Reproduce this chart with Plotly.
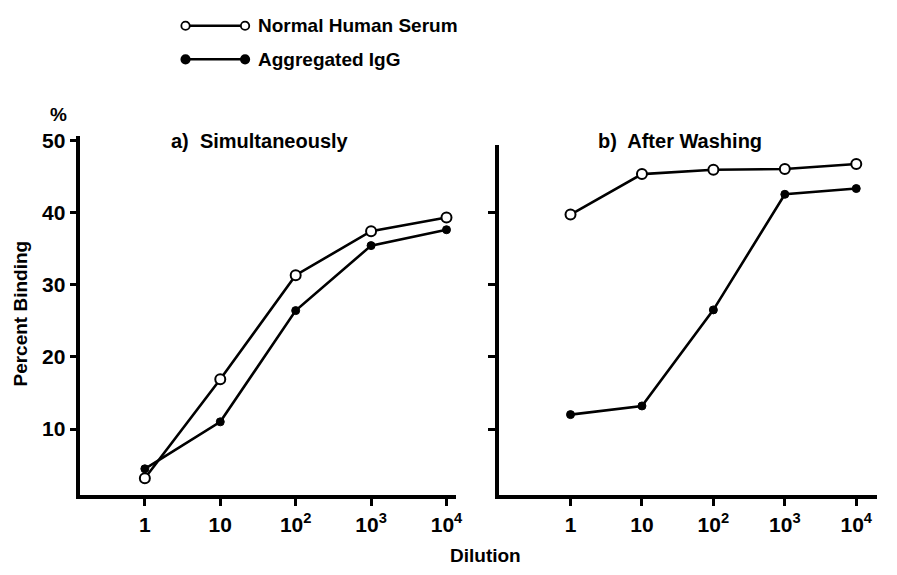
import plotly.graph_objects as go

# Dilution levels and percent binding for each serum treatment
dilution = [1, 10, 100, 1000, 10000]
dilution_labels = ["1", "10", "10<sup>2</sup>", "10<sup>3</sup>", "10<sup>4</sup>"]

simul_normal = [3.2, 16.9, 31.3, 37.4, 39.3]
simul_aggregated = [4.5, 11.0, 26.4, 35.4, 37.6]

washed_normal = [39.7, 45.3, 45.9, 46.0, 46.7]
washed_aggregated = [12.0, 13.2, 26.5, 42.5, 43.3]

y_ticks = [10, 20, 30, 40, 50]

W, H = 897, 575


def px(x):
    return x / W


def py(y):
    return 1 - y / H


LINE_W = 2.6
TICK_FONT = dict(family="Liberation Sans Narrow, Arial Narrow, Liberation Sans, Arial, sans-serif",
                 size=21, color="black", weight="bold")
TEXT_FONT = dict(family="Liberation Sans, Arial, Helvetica, sans-serif", size=19,
                 color="black", weight="bold")
TITLE_FONT = dict(TEXT_FONT, size=20)

open_marker = dict(symbol="circle", size=10, color="white", line=dict(color="black", width=2))
filled_marker = dict(symbol="circle", size=8, color="black", line=dict(color="black", width=1))

fig = go.Figure()

panels = [
    ("x", "y", simul_normal, simul_aggregated),
    ("x2", "y2", washed_normal, washed_aggregated),
]
for xa, ya, normal, aggregated in panels:
    fig.add_trace(go.Scatter(x=dilution, y=aggregated, mode="lines+markers", xaxis=xa, yaxis=ya,
                             line=dict(color="black", width=LINE_W), marker=filled_marker,
                             showlegend=False, cliponaxis=False))
    fig.add_trace(go.Scatter(x=dilution, y=normal, mode="lines+markers", xaxis=xa, yaxis=ya,
                             line=dict(color="black", width=LINE_W), marker=open_marker,
                             showlegend=False, cliponaxis=False))

axis_common = dict(showgrid=False, zeroline=False, showline=True, linecolor="black",
                   linewidth=3.5, ticks="outside", ticklen=7, tickwidth=2.5,
                   tickcolor="black", tickfont=TICK_FONT)

# 10 sits at y=427 px, 7.325 px per percentage point, axes meet at y=494 px
y_bottom = 10 - (494 - 427) / 7.325
fig.update_layout(
    width=W, height=H,
    margin=dict(l=0, r=0, t=0, b=0),
    paper_bgcolor="white", plot_bgcolor="white",
    xaxis=dict(axis_common, type="log", domain=[px(81), px(460)],
               range=[(81 - 146) / 76, (460 - 146) / 76], tickvals=dilution,
               ticktext=dilution_labels, ticklabelstandoff=1, anchor="y"),
    yaxis=dict(axis_common, domain=[py(494), py(130)], range=[y_bottom, 50.55],
               tickvals=y_ticks, ticktext=[str(v) for v in y_ticks],
               ticklabelstandoff=0, anchor="x"),
    xaxis2=dict(axis_common, type="log", domain=[px(503), px(884)],
                range=[(503 - 575) / 72, (884 - 575) / 72], tickvals=dilution,
                ticktext=dilution_labels, ticklabelstandoff=1, anchor="y2"),
    yaxis2=dict(axis_common, domain=[py(494), py(139)], range=[y_bottom, 49.32],
                tickvals=y_ticks[:-1], showticklabels=False, anchor="x2"),
)

annotations = [
    dict(text="a)  Simultaneously", x=px(262), y=py(135), font=TITLE_FONT),
    dict(text="b)  After Washing", x=px(685), y=py(135), font=TITLE_FONT),
    dict(text="Dilution", x=px(489), y=py(555), font=TEXT_FONT),
    dict(text="Percent Binding", x=px(21), y=py(310), textangle=-90, font=TEXT_FONT),
    dict(text="%", x=px(59), y=py(108), font=TEXT_FONT),
]
for a in annotations:
    fig.add_annotation(xref="paper", yref="paper", showarrow=False,
                       xanchor="center", yanchor="middle", **a)

# Key: line segment with a marker at each end, followed by the series name
legend_rows = [
    (18, "white", 4.2, "Normal Human Serum"),
    (52, "black", 4.2, "Aggregated IgG"),
]
for y, fill, r, label in legend_rows:
    fig.add_shape(type="line", xref="paper", yref="paper", x0=px(187), x1=px(247),
                  y0=py(y), y1=py(y), line=dict(color="black", width=LINE_W))
    for cx in (187, 247):
        fig.add_shape(type="circle", xref="paper", yref="paper", xsizemode="pixel",
                      ysizemode="pixel", xanchor=px(cx), yanchor=py(y),
                      x0=-r, x1=r, y0=-r, y1=r, fillcolor=fill,
                      line=dict(color="black", width=1.8))
    fig.add_annotation(xref="paper", yref="paper", showarrow=False, font=TEXT_FONT,
                       text=label, x=px(258), y=py(y), xanchor="left", yanchor="middle")

fig.write_html("out.html")
